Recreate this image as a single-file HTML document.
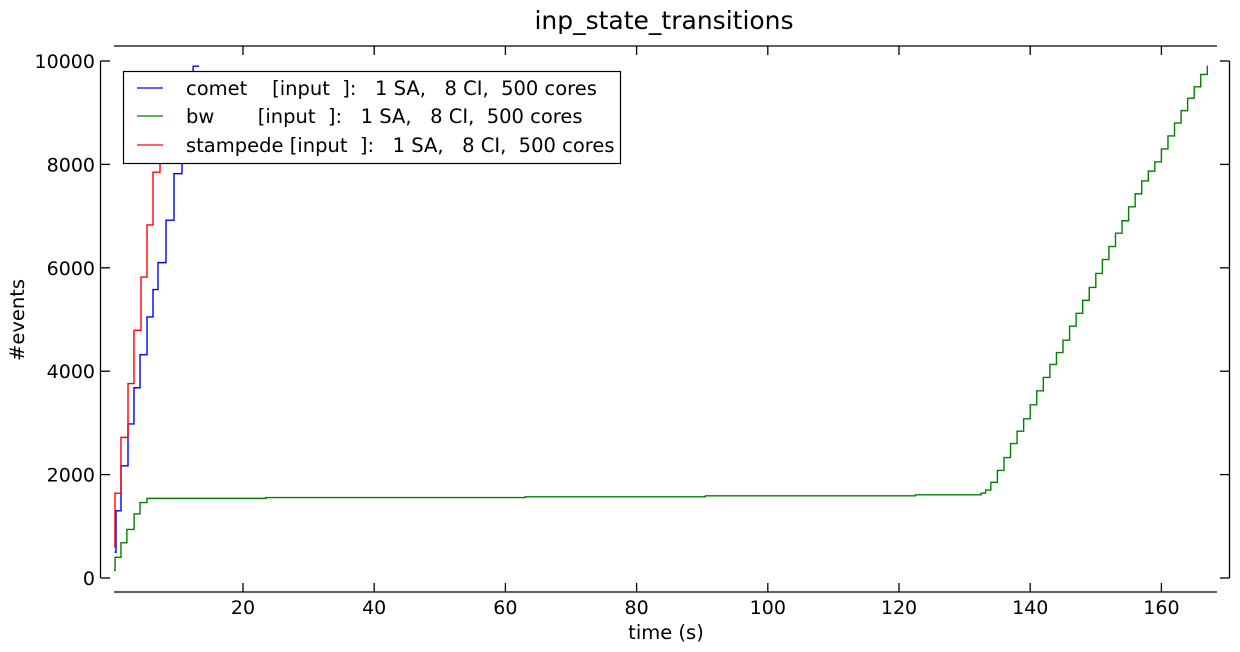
<!DOCTYPE html>
<html><head><meta charset="utf-8"><style>
html,body{margin:0;padding:0;background:#fff}
svg{display:block;font-family:"DejaVu Sans","Liberation Sans",sans-serif}
</style></head><body>
<svg id="chart" width="1240" height="652">
<rect width="1240" height="652" fill="#fff"/>
<text x="664" y="29" font-size="25" text-anchor="middle">inp_state_transitions</text>
<defs><clipPath id="plotclip"><rect x="114" y="46" width="1103" height="546"/></clipPath></defs>
<g id="series" clip-path="url(#plotclip)"></g>
<g id="axes"></g>
<text x="666" y="639" font-size="19.5" text-anchor="middle">time (s)</text>
<text transform="translate(24,320) rotate(-90)" font-size="19.5" text-anchor="middle">#events</text>
<g>
<rect x="123.5" y="71.5" width="497" height="92" fill="#fff" stroke="#000" stroke-width="1.2"/>
<line x1="137" y1="88" x2="163" y2="88" stroke="#0000ff" stroke-width="1.3"/>
<line x1="137" y1="116" x2="163" y2="116" stroke="#008000" stroke-width="1.3"/>
<line x1="137" y1="145" x2="163" y2="145" stroke="#ff0000" stroke-width="1.3"/>
<text x="186" y="95" font-size="19.5" xml:space="preserve">comet    [input  ]:   1 SA,   8 CI,  500 cores</text>
<text x="186" y="123" font-size="19.5" xml:space="preserve">bw       [input  ]:   1 SA,   8 CI,  500 cores</text>
<text x="186" y="152" font-size="19.5" xml:space="preserve">stampede [input  ]:   1 SA,   8 CI,  500 cores</text>
</g>
</svg>
<script>
const cometT=[0.4,0.64,1.4,2.47,3.38,4.3,5.37,6.28,7.04,8.26,9.48,10.7,11.9,12.4,13.3];
const cometV=[500,1300,2170,2980,3680,4320,5050,5580,6100,6920,7820,8700,9500,9900,9900];
const stampT=[0.35,0.49,1.4,2.47,3.38,4.45,5.37,6.28,7.35,8.26,9.3];
const stampV=[600,1640,2720,3760,4790,5820,6830,7850,8800,9700,9700];
const bwT=[0.3,0.5,1.4,2.3,3.4,4.3,5.37,23.5,63,90.5,122.5,132.5,133.2,134,135,136,137,138,139,140,141,142,143,144,145,146,147,148,149,150,151,152,153,154,155,156,157,158,159,160,161,162,163,164,165,166,167];
const bwV=[150,400,680,940,1240,1460,1540,1555,1570,1590,1610,1640,1700,1850,2080,2330,2600,2840,3080,3350,3620,3880,4130,4360,4600,4870,5120,5370,5620,5890,6160,6410,6670,6910,7180,7430,7680,7870,8050,8300,8550,8800,9040,9280,9500,9740,9910];
const xTicks=[20,40,60,80,100,120,140,160];
const yTicks=[0,2000,4000,6000,8000,10000];
const NS='http://www.w3.org/2000/svg';
function xs(t){return 111.8+6.56*t;}
function ys(v){return 578-0.0517*v;}
function mk(tag,attrs,parent){const e=document.createElementNS(NS,tag);for(const k in attrs)e.setAttribute(k,attrs[k]);parent.appendChild(e);return e;}
const series=document.getElementById('series');
function stepPath(T,V){let d='M'+xs(T[0])+','+ys(V[0]);for(let i=1;i<T.length;i++){d+=' H'+xs(T[i])+' V'+ys(V[i]);}return d;}
const p1=mk('path',{d:stepPath(bwT,bwV),fill:'none',stroke:'#008000','stroke-width':1.4},series);


const p2=mk('path',{d:stepPath(cometT,cometV),fill:'none',stroke:'#0000ff','stroke-width':1.4},series);


const p3=mk('path',{d:stepPath(stampT,stampV),fill:'none',stroke:'#ff0000','stroke-width':1.4},series);


const ax=document.getElementById('axes');
const st={stroke:'#000','stroke-width':1.3};
mk('line',Object.assign({x1:114,y1:46,x2:1217,y2:46},st),ax);
mk('line',Object.assign({x1:114,y1:592,x2:1217,y2:592},st),ax);
mk('line',Object.assign({x1:100.5,y1:ys(10000),x2:100.5,y2:ys(0)},st),ax);
mk('line',Object.assign({x1:1229.5,y1:ys(10000),x2:1229.5,y2:ys(0)},st),ax);
xTicks.forEach(t=>{
  const x=xs(t);
  mk('line',Object.assign({x1:x,y1:592,x2:x,y2:583},st),ax);
  mk('line',Object.assign({x1:x,y1:46,x2:x,y2:55},st),ax);
  const tx=mk('text',{x:x,y:614,'font-size':19,'text-anchor':'middle'},ax);
  tx.textContent=t;
  
  
});
yTicks.forEach(v=>{
  const y=ys(v);
  mk('line',Object.assign({x1:100.5,y1:y,x2:110,y2:y},st),ax);
  mk('line',Object.assign({x1:1229.5,y1:y,x2:1220,y2:y},st),ax);
  const tx=mk('text',{x:95,y:y+7,'font-size':19,'text-anchor':'end'},ax);
  tx.textContent=v;
  
  
});
</script>
</body></html>
